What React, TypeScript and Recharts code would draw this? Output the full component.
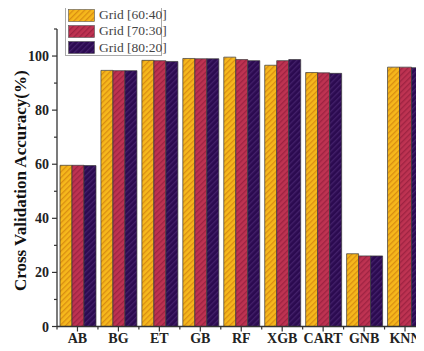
import React from "react";
import { BarChart, Bar, XAxis, YAxis } from "recharts";

// Models on the x axis
const models = ["AB", "BG", "ET", "GB", "RF", "XGB", "CART", "GNB", "KNN"];

// Cross validation accuracy (%) for each train/test split
const grid6040 = [59.6, 94.7, 98.4, 99.1, 99.6, 96.6, 93.9, 26.9, 95.9];
const grid7030 = [59.6, 94.6, 98.3, 99.0, 98.7, 98.3, 93.8, 26.1, 95.9];
const grid8020 = [59.5, 94.6, 98.0, 99.0, 98.3, 98.7, 93.6, 26.1, 95.7];

const seriesNames = ["Grid [60:40]", "Grid [70:30]", "Grid [80:20]"];
const seriesKeys = ["g6040", "g7030", "g8020"];

const yTicks = [0, 10, 20, 30, 40, 50, 60, 70, 80, 90, 100, 110];
const yLabelTicks = [0, 20, 40, 60, 80, 100];

// base colour + stripe colour for each hatched fill
const fills = [
  { id: "hatchYellow", base: "#F6B81C", stripe: "#D98E12" },
  { id: "hatchRed", base: "#BE3352", stripe: "#9E2342" },
  { id: "hatchPurple", base: "#2B0A50", stripe: "#43206A" },
];

const data = models.map((name, i) => ({
  name,
  g6040: grid6040[i],
  g7030: grid7030[i],
  g8020: grid8020[i],
}));

const FONT = "'Liberation Serif', 'Times New Roman', serif";
const AXIS = "#333";

const TICK_SIZE = 5;
const TICK_MARGIN = 3;

// y ticks: labelled majors every 20, short minors in between
const YTick = (props: any) => {
  const { x, y, payload } = props;
  const axisX = x + TICK_SIZE + TICK_MARGIN;
  const major = yLabelTicks.includes(payload.value);
  return (
    <g>
      <line x1={axisX - (major ? 5 : 3)} x2={axisX} y1={y} y2={y} stroke={AXIS} strokeWidth={1.2} />
      {major && (
        <text x={x} y={y} dy="0.36em" textAnchor="end" fontFamily={FONT} fontWeight="bold" fontSize={14} fill="#222">
          {payload.value}
        </text>
      )}
    </g>
  );
};

// x ticks: category label plus a small tick on the left band edge
const XTick = (props: any) => {
  const { x, y, payload } = props;
  const axisY = y - TICK_SIZE - 2;
  const half = payload.offset || 0;
  return (
    <g>
      {half > 0 && (
        <line x1={x - half} x2={x - half} y1={axisY} y2={axisY + 3} stroke={AXIS} strokeWidth={1.2} />
      )}
      <text x={x} y={axisY} dy={16.5} textAnchor="middle" fontFamily={FONT} fontWeight="bold" fontSize={14} fill="#222">
        {payload.value}
      </text>
    </g>
  );
};

// rotated axis title, placed from the y axis viewBox
const YTitle = (props: any) => {
  const { viewBox } = props;
  const cx = viewBox.x + 20;
  const cy = viewBox.y + viewBox.height / 2 + 3;
  return (
    <text
      x={cx}
      y={cy}
      transform={`rotate(-90, ${cx}, ${cy})`}
      textAnchor="middle"
      dominantBaseline="central"
      fontFamily={FONT}
      fontWeight="bold"
      fontSize={17}
      fill="#111"
    >
      Cross Validation Accuracy(%)
    </text>
  );
};

const LegendBox = () => (
  <div
    style={{
      position: "absolute",
      left: 65,
      top: 5,
      width: 97,
      height: 51,
      border: "1px solid #aaa",
      background: "#fff",
      fontFamily: FONT,
      fontSize: 13.5,
      color: "#444",
      whiteSpace: "nowrap",
      boxSizing: "border-box",
    }}
  >
    {seriesNames.map((s, i) => (
      <div key={s} style={{ display: "flex", alignItems: "center", height: 16.3, marginTop: i === 0 ? 1 : 0 }}>
        <svg width={27} height={13} style={{ marginLeft: 2, marginRight: 4, flex: "none" }}>
          <rect x={0.5} y={0.5} width={26} height={12} fill={`url(#${fills[i].id})`} stroke="#555" strokeWidth={0.6} />
        </svg>
        <span>{s}</span>
      </div>
    ))}
  </div>
);

export default function App() {
  return (
    <div style={{ position: "relative", margin: -8, width: 424, height: 351, overflow: "hidden", background: "#fff" }}>
      <BarChart
        width={432}
        height={351}
        data={data}
        margin={{ top: 29, right: 6.5, left: 0, bottom: 0 }}
        barCategoryGap="7.3%"
        barGap={0}
      >
        <defs>
          {fills.map((f) => (
            <pattern
              key={f.id}
              id={f.id}
              patternUnits="userSpaceOnUse"
              width={4}
              height={4}
              patternTransform="rotate(45)"
            >
              <rect width={4} height={4} fill={f.base} />
              <rect width={1.3} height={4} fill={f.stripe} />
            </pattern>
          ))}
        </defs>
        <XAxis
          dataKey="name"
          height={24.5}
          stroke={AXIS}
          axisLine={{ stroke: AXIS, strokeWidth: 1.3 }}
          tickLine={{ stroke: AXIS, strokeWidth: 1.2 }}
          tickSize={TICK_SIZE}
          tickMargin={2}
          tick={<XTick />}
          interval={0}
        />
        <YAxis
          width={57}
          domain={[0, 110]}
          ticks={yTicks}
          interval={0}
          axisLine={{ stroke: AXIS, strokeWidth: 1.3 }}
          tickLine={false}
          tickSize={TICK_SIZE}
          tickMargin={TICK_MARGIN}
          tick={<YTick />}
          label={<YTitle />}
        />
        {seriesKeys.map((k, i) => (
          <Bar
            key={k}
            dataKey={k}
            name={seriesNames[i]}
            fill={`url(#${fills[i].id})`}
            stroke="#3a3a3a"
            strokeWidth={0.7}
            isAnimationActive={false}
          />
        ))}
      </BarChart>
      <LegendBox />
    </div>
  );
}
